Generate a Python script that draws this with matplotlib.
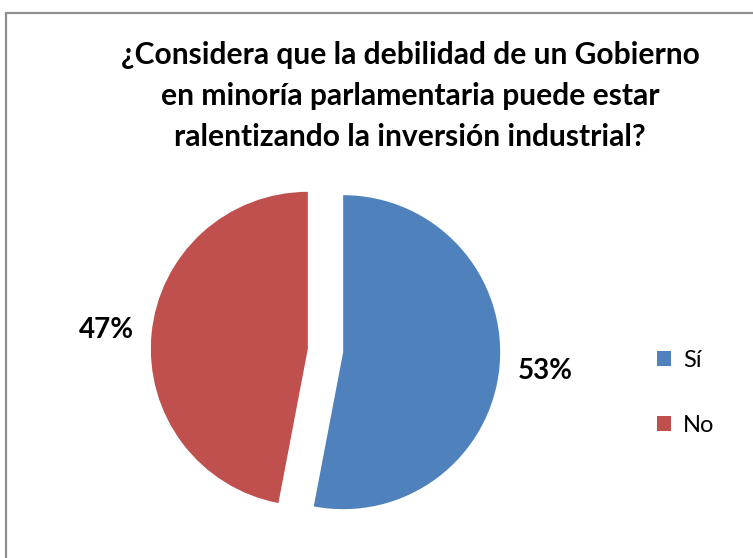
import matplotlib
matplotlib.use("Agg")
import matplotlib.pyplot as plt
import matplotlib.patches as mpatches

# Data
categories = ["Sí", "No"]
values = [53, 47]
colors = ["#4F81BD", "#C0504D"]
title = "¿Considera que la debilidad de un Gobierno\nen minoría parlamentaria puede estar\nralentizando la inversión industrial?"

W, H = 753, 558
fig = plt.figure(figsize=(W / 100, H / 100), dpi=100)
fig.patch.set_facecolor("white")

# outer chart border (right/bottom edges fall outside the image)
border = mpatches.Rectangle((6 / W, -0.2), 1.3, 1.2 - 13 / H,
                            transform=fig.transFigure, fill=False,
                            edgecolor="#8E8E8E", linewidth=1.6, clip_on=False)
fig.patches.append(border)

ax = fig.add_axes([0, 0, 1, 1])
cx, cy, r = 325.5, 207.5, 157.0
wedges, texts, autotexts = ax.pie(
    values, colors=colors, startangle=90, counterclock=False,
    explode=[0.113, 0.113], radius=1, center=(0, 0),
    autopct="%1.0f%%", pctdistance=1.29,
    textprops=dict(fontsize=20, fontweight="bold", family="Lato", color="black"),
    wedgeprops=dict(linewidth=0),
)
ax.set_xlim(-cx / r, (W - cx) / r)
ax.set_ylim(-cy / r, (H - cy) / r)
ax.set_aspect("equal")
ax.axis("off")

fig.text(410 / W, 1 - 96 / H, title, ha="center", va="center",
         fontsize=21.6, fontweight="bold", family="Lato", linespacing=1.58)

leg = ax.legend(wedges, categories, loc="center left",
                bbox_to_anchor=(636 / W, 1 - 393 / H), bbox_transform=fig.transFigure,
                frameon=False, prop=dict(family="Lato", size=17),
                handlelength=0.58, handleheight=0.58, handletextpad=0.5,
                labelspacing=1.85)

fig.savefig("out.png", dpi=100)
